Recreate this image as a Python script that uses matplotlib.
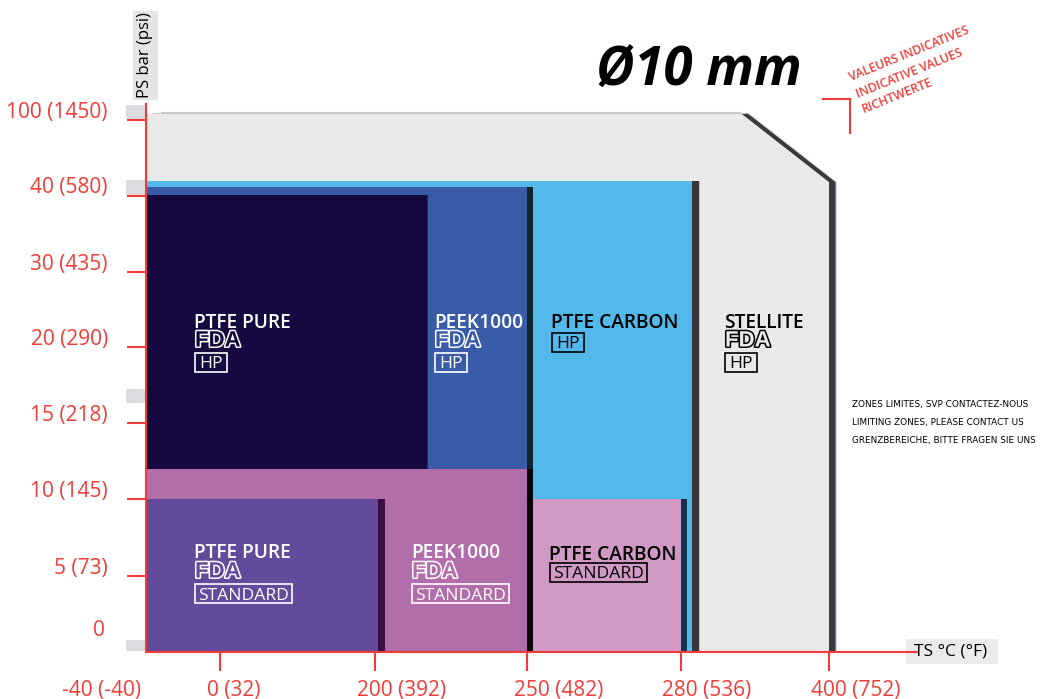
import numpy as np
import matplotlib
matplotlib.use('Agg')
import matplotlib.pyplot as plt
import matplotlib.patheffects as pe
from matplotlib.patches import Rectangle
from matplotlib.transforms import Affine2D, ScaledTranslation

# axis values and labels
ts_ticks = [-40, 0, 200, 250, 280, 400]
ts_labels = ['-40 (-40)', '0 (32)', '200 (392)', '250 (482)', '280 (536)', '400 (752)']
ps_ticks = [0, 5, 10, 15, 20, 30, 40, 100]
ps_labels = ['0', '5 (73)', '10 (145)', '15 (218)', '20 (290)', '30 (435)', '40 (580)', '100 (1450)']

# stellite outline, chamfered corner
stellite_ts = [-40, 329, 400, 400, -40]
stellite_ps = [105, 105, 51, 0, 0]

# rectangular zones (temperature limit, pressure limit)
carbon_hp_ts, carbon_hp_ps = 289, 52
carbon_std_ts, carbon_std_ps = 280, 10
peek_hp_ts, peek_hp_ps = 250, 47
peek_std_ts, peek_std_ps = 250, 12
pure_hp_ts, pure_hp_ps = 217, 41
pure_std_ts, pure_std_ps = 201, 10

RED = '#f03c38'
W, H = 1043, 699

# the chart's axes are not linear, every tick gets the same spacing on paper
x_vals = [-119, -40, 0, 200, 250, 280, 400, 615]
x_pos = [0, 146, 220, 375, 527, 681, 829, 1043]
y_vals = [-6.2, 0, 5, 10, 15, 20, 30, 40, 100, 195]
y_pos = [699, 652, 576, 499, 423, 347, 272, 196, 120, 0]
y_pos = [H - p for p in y_pos]

plt.rcParams['font.family'] = ['Open Sans', 'DejaVu Sans']

fig = plt.figure(figsize=(W / 100, H / 100), dpi=100)
ax = fig.add_axes([0, 0, 1, 1])
ax.set_facecolor('white')
ax.set_xscale('function', functions=(lambda v: np.interp(v, x_vals, x_pos),
                                     lambda p: np.interp(p, x_pos, x_vals)))
ax.set_yscale('function', functions=(lambda v: np.interp(v, y_vals, y_pos),
                                     lambda p: np.interp(p, y_pos, y_vals)))
ax.set_xlim(x_vals[0], x_vals[-1])
ax.set_ylim(y_vals[0], y_vals[-1])

# pixel coordinates for the annotations
pix = Affine2D().scale(1, -1).translate(0, H)


def shadow(width, colour, alpha):
    # width in pixels, offset wants points
    return pe.SimplePatchShadow(offset=(width * 0.72, 0), shadow_rgbFace=colour, alpha=alpha)


def zone(ts, ps, colour, effects, start=-40):
    bar = ax.bar(start, ps, ts - start, align='edge', color=colour, linewidth=0)[0]
    bar.set_path_effects(effects + [pe.Normal()])


# gray boxes behind some ticks
for top, bottom in [(105, 119), (180, 195), (389, 403), (640, 651)]:
    ax.add_patch(Rectangle((126, top), 20, bottom - top, color='#dcdde0', lw=0, transform=pix))
ax.add_patch(Rectangle((906, 639), 92, 25, color='#ebebeb', lw=0, transform=pix))
ax.add_patch(Rectangle((133, 11), 25, 89, color='#e4e5e7', lw=0, transform=pix))

hard = [shadow(8, 'black', 0.18), shadow(6.5, '#1f2024', 0.85)]

poly = ax.fill(stellite_ts, stellite_ps, color='#e9e9ea', linewidth=0)[0]
poly.set_path_effects(hard + [pe.Normal()])
ax.plot([-32, 329], [105.5, 105.5], color='#c9cace', lw=1.6, solid_capstyle='butt', zorder=1)

zone(carbon_hp_ts, carbon_hp_ps, '#52b9ea', hard)
zone(carbon_std_ts, carbon_std_ps, '#d09ac5', [shadow(6, '#0e2c44', 0.95)], start=250)
zone(peek_hp_ts, peek_hp_ps, '#3a5ba8', [shadow(6, 'black', 0.8)])
zone(pure_hp_ts, pure_hp_ps, '#16093f', [shadow(1.5, '#1b2a66', 1)])
zone(peek_std_ts, peek_std_ps, '#b26eaa', [shadow(6, 'black', 0.82)])
zone(pure_std_ts, pure_std_ps, '#634a9b', [shadow(6.5, '#3c0e45', 1)])

# axes
for side in ['top', 'right']:
    ax.spines[side].set_visible(False)
ax.spines['left'].set_position(('data', -40))
ax.spines['bottom'].set_position(('data', 0))
ax.spines['left'].set_bounds(0, 113)
ax.spines['bottom'].set_bounds(-40, 488)
for side in ['left', 'bottom']:
    ax.spines[side].set_color(RED)
    ax.spines[side].set_linewidth(1.5)
    ax.spines[side].set_zorder(5)

ax.set_xticks(ts_ticks, ts_labels)
ax.set_yticks(ps_ticks, ps_labels)
ax.minorticks_off()
ax.tick_params(axis='both', colors=RED, length=13.5, width=1.5, pad=0, labelsize=15, labelcolor=RED)

# no tick marks at the origin
ax.xaxis.get_major_ticks()[0].tick1line.set_visible(False)
ax.yaxis.get_major_ticks()[0].tick1line.set_visible(False)

# tick labels sit off centre from their ticks
x_label_shift = [-44, 14, 27, 32, 26, 27]
for lab, dx in zip(ax.get_xticklabels(), x_label_shift):
    lab.set_transform(lab.get_transform() + ScaledTranslation(dx / 100, -9 / 100, fig.dpi_scale_trans))
y_label_shift = [[-22, 24], [-20, 10], [-20, 10], [-20, 10], [-19, 10], [-20, 10], [-20, 11], [-20, 10]]
for lab, (dx, dy) in zip(ax.get_yticklabels(), y_label_shift):
    lab.set_transform(lab.get_transform() + ScaledTranslation(dx / 100, dy / 100, fig.dpi_scale_trans))

ax.set_xlabel('TS °C (°F)', fontsize=12.5, color='black', rotation=0, ha='center', va='center')
ax.xaxis.set_label_coords(951 / W, 1 - 651 / H)
ax.set_ylabel('PS bar (psi)', fontsize=12, color='black', rotation=90, ha='center', va='center')
ax.yaxis.set_label_coords(145 / W, 1 - 55 / H)

# title and notes
ax.text(596, 86, 'Ø10 mm', transform=pix, fontsize=38, fontweight='bold', fontstyle='italic', color='black')
ax.plot([823, 850, 850], [99, 99, 133], color=RED, lw=1.5, transform=pix, solid_joinstyle='miter')
for (x, y), txt in zip([(851, 81), (858, 98), (864, 113)], ['VALEURS INDICATIVES', 'INDICATIVE VALUES', 'RICHTWERTE']):
    ax.text(x, y, txt, transform=pix, color=RED, fontsize=8.8, fontweight=600, rotation=22, rotation_mode='anchor')
notes = ['ZONES LIMITES, SVP CONTACTEZ-NOUS', 'LIMITING ZONES, PLEASE CONTACT US', 'GRENZBEREICHE, BITTE FRAGEN SIE UNS']
for y, txt in zip([404, 422, 440], notes):
    ax.text(852, y, txt, transform=pix, color='black', fontsize=6.4, va='center', family='DejaVu Sans')


def label(x, y, name, colour, bg, box, box_top, fda_y=None):
    ax.text(x, y + 1.5, name, transform=pix, color=colour, fontsize=13.8, fontweight=600, va='center')
    if fda_y is not None:
        ax.text(x + 1, fda_y, 'FDA', transform=pix, color=bg, fontsize=16, fontweight='bold',
                family='Liberation Sans', va='center',
                path_effects=[pe.withStroke(linewidth=2.2, foreground=colour)])
    width = 32 if box == 'HP' else 97
    ax.add_patch(Rectangle((x + 1, box_top), width, 19, fc='none', ec=colour, lw=1.2, transform=pix, zorder=3))
    ax.text(x + 1 + width / 2, box_top + 9.5, box, transform=pix, color=colour, fontsize=12.6,
            ha='center', va='center_baseline')


label(194, 321, 'PTFE PURE', 'white', '#16093f', 'HP', 353, 341)
label(434, 321, 'PEEK1000', 'white', '#3a5ba8', 'HP', 353, 341)
label(551, 321, 'PTFE CARBON', 'black', '#52b9ea', 'HP', 333)
label(724, 321, 'STELLITE', 'black', '#e9e9ea', 'HP', 353, 341)
label(194, 552, 'PTFE PURE', 'white', '#634a9b', 'STANDARD', 584, 572)
label(411, 552, 'PEEK1000', 'white', '#b26eaa', 'STANDARD', 584, 572)
label(549, 553, 'PTFE CARBON', 'black', '#d09ac5', 'STANDARD', 563)

fig.savefig('out.png', dpi=100)
